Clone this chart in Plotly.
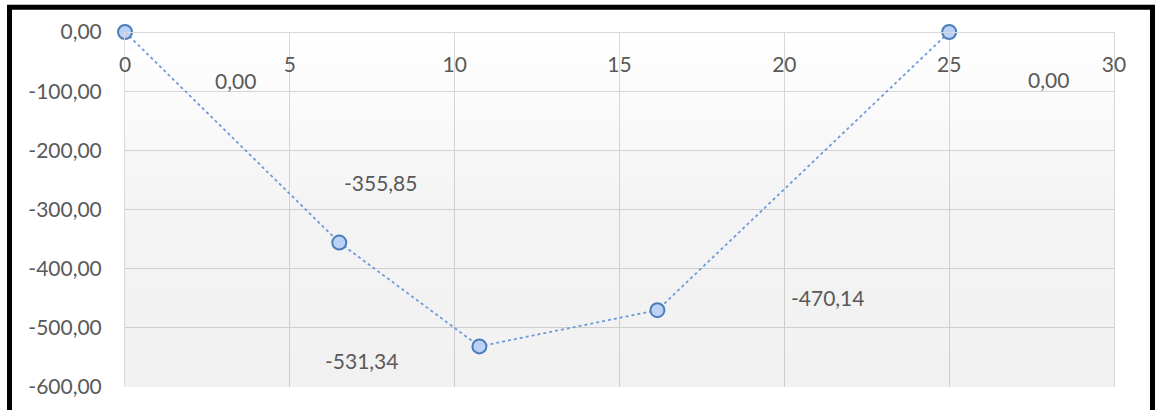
import plotly.graph_objects as go

# Station positions and values
positions = [0, 6.5, 10.75, 16.15, 25]
values = [0.00, -355.85, -531.34, -470.14, 0.00]

# Axis ticks
x_ticks = [0, 5, 10, 15, 20, 25, 30]
y_ticks = [0, -100, -200, -300, -400, -500, -600]

# Label offsets (pixels) relative to each point
label_dx = [110, 41, -118, 170, 99]
label_dy = [-48, 60, -14, 13, -47]

x_range = [0, 30]
y_range = [-600, 0]

FONT = "Lato, 'Open Sans', sans-serif"
TEXT_GREY = "#595959"
GRID = "#d9d9d9"


def fmt(v):
    return f"{v:.2f}".replace(".", ",")


fig = go.Figure()

# Plot-area shading: translucent vertical gradient so gridlines stay visible
fig.add_trace(go.Scatter(
    x=[x_range[0], x_range[1], x_range[1], x_range[0], x_range[0]],
    y=[y_range[1], y_range[1], y_range[0], y_range[0], y_range[1]],
    mode="none", fill="toself",
    fillgradient=dict(type="vertical",
                      colorscale=[[0, "rgba(0,0,0,0.055)"],
                                  [0.5, "rgba(0,0,0,0.045)"],
                                  [1, "rgba(0,0,0,0)"]]),
    hoverinfo="skip", showlegend=False,
))

fig.add_trace(go.Scatter(
    x=positions, y=values,
    mode="lines+markers",
    line=dict(color="#6f9ad8", width=1.8, dash="dot"),
    marker=dict(size=14, color="#bcd1f5", line=dict(color="#4a7ebb", width=2)),
    cliponaxis=False,
    showlegend=False,
))

for xv, yv, dx, dy in zip(positions, values, label_dx, label_dy):
    fig.add_annotation(
        x=xv, y=yv, text=fmt(yv), showarrow=False,
        xshift=dx, yshift=dy,
        font=dict(family=FONT, size=21, color=TEXT_GREY),
    )

# Outer frame
fig.add_shape(
    type="rect", xref="paper", yref="paper",
    x0=(9.5 - 125) / 989, x1=(1152.5 - 125) / 989,
    y0=(390 - 7) / 358, y1=(390 - 430) / 358,
    line=dict(color="black", width=5), layer="above",
)

fig.update_layout(
    width=1156, height=410,
    margin=dict(l=125, r=42, t=32, b=20),
    paper_bgcolor="white", plot_bgcolor="white",
    font=dict(family=FONT, size=21, color=TEXT_GREY),
    xaxis=dict(
        range=x_range, tickmode="array", tickvals=x_ticks,
        ticktext=[str(t) for t in x_ticks],
        showgrid=True, gridcolor=GRID, gridwidth=1,
        zeroline=False, showline=True, linecolor=GRID, mirror=True,
        anchor="free", position=1, side="bottom",
        ticks="", ticklabelstandoff=14,
        tickfont=dict(family=FONT, size=21, color=TEXT_GREY),
    ),
    yaxis=dict(
        range=y_range, tickmode="array", tickvals=y_ticks,
        ticktext=[fmt(t) for t in y_ticks],
        showgrid=True, gridcolor=GRID, gridwidth=1,
        zeroline=False, showline=True, linecolor=GRID, mirror=True,
        ticks="", ticklabelstandoff=18,
        tickfont=dict(family=FONT, size=21, color=TEXT_GREY),
    ),
)

fig.write_html("out.html")
